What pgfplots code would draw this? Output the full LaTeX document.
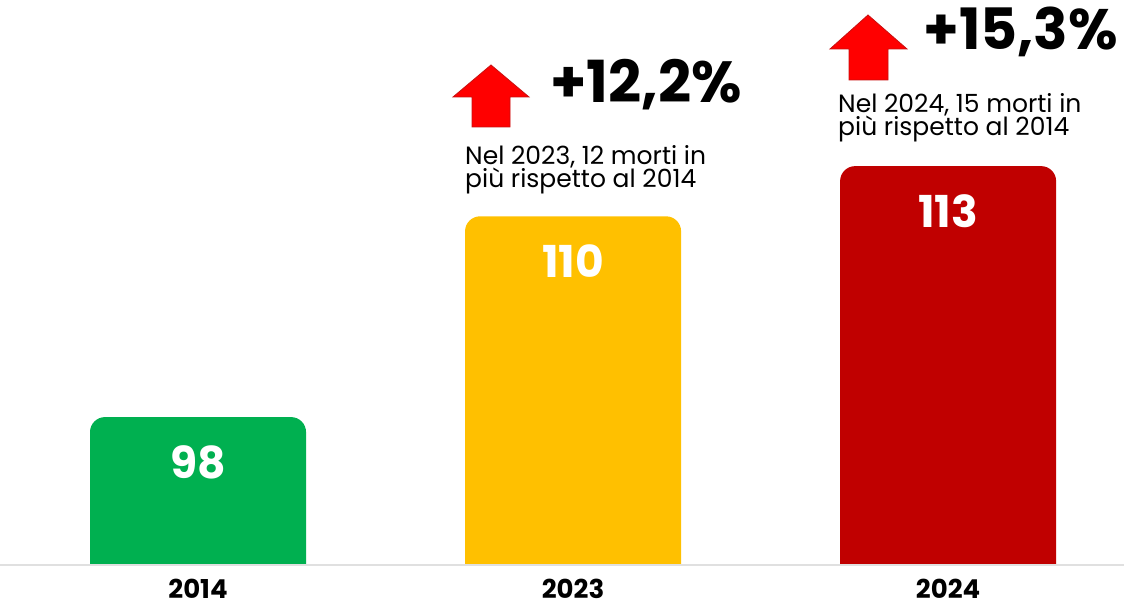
\documentclass[border=0pt]{standalone}
\usepackage{fontspec}
\setmainfont{Poppins}
\usepackage{pgfplots}
\pgfplotsset{compat=1.18}
\pgfplotsset{
 layers/mine/.define layer set={
  axis background,axis grid,axis ticks,axis lines,
  pre main,main,axis tick labels,axis descriptions,axis foreground
 }{
  grid style= {/pgfplots/on layer=axis grid},
  tick style= {/pgfplots/on layer=axis ticks},
  axis line style= {/pgfplots/on layer=axis lines},
  label style= {/pgfplots/on layer=axis descriptions},
  legend style= {/pgfplots/on layer=axis descriptions},
  title style= {/pgfplots/on layer=axis descriptions},
  colorbar style= {/pgfplots/on layer=axis descriptions},
  ticklabel style= {/pgfplots/on layer=axis tick labels},
  axis background@ style={/pgfplots/on layer=axis background},
  3d box foreground style={/pgfplots/on layer=axis foreground},
 },
}
\definecolor{cgreen}{HTML}{00B050}
\definecolor{cyellow}{HTML}{FFC000}
\definecolor{cred}{HTML}{C00000}
\definecolor{carrow}{HTML}{FF0000}
\definecolor{carrowedge}{HTML}{C81010}
\begin{document}
\begin{tikzpicture}
\begin{axis}[
  set layers=mine,
  scale only axis, width=1124pt, height=640pt,
  xmin=-0.528, xmax=2.469, ymin=84.677, ymax=122.93,
  axis y line=none, axis x line=bottom, x axis line style={draw=none},
  xtick={0,1,2}, xticklabels={2014,2023,2024}, major tick length=0pt,
  xticklabel style={font=\fontsize{26}{26}\selectfont\bfseries, inner sep=0pt, text depth=0pt, yshift=61.5pt},
  ybar, bar width=0.576, bar shift=0pt,
  nodes near coords,
  every node near coord/.append style={font=\fontsize{44}{44}\selectfont\bfseries, text=white, anchor=center, yshift=-45pt},
  /pgf/number format/assume math mode=true,
  clip=true,
]
\addplot[fill=cgreen, draw=none, rounded corners=15pt] coordinates {(0,98)};
\addplot[fill=cyellow, draw=none, rounded corners=15pt] coordinates {(1,110)};
\addplot[fill=cred, draw=none, rounded corners=15pt] coordinates {(2,113)};
\fill[white] (rel axis cs:0,0) rectangle (axis cs:2.469,89.16);
\draw[black!12, line width=1.5pt] (axis cs:-0.528,89.16) -- (axis cs:2.469,89.16);
\coordinate (TL) at (rel axis cs:0,1);
\coordinate (BL0) at (axis cs:-0.528,89.16);
\coordinate (BR0) at (axis cs:2.469,89.16);
\end{axis}
\begin{scope}[shift={(TL)}, x=1pt, y=-1pt]
  \draw[fill=carrow, draw=carrowedge, line width=0.8pt, line join=miter]
    (491,65) -- (529,97) -- (510,97) -- (510,127) -- (472,127) -- (472,97) -- (453,97) -- cycle;
  \draw[fill=carrow, draw=carrowedge, line width=0.8pt, line join=miter]
    (868,15) -- (907,49) -- (888,49) -- (888,80) -- (849,80) -- (849,49) -- (830,49) -- cycle;
  \node[anchor=base west, inner sep=0pt, font=\fontsize{58}{58}\selectfont\bfseries] at (550,103) {+12,2\%};
  \node[anchor=base west, inner sep=0pt, font=\fontsize{57}{57}\selectfont\bfseries] at (923,50) {+15,3\%};
  \node[anchor=base west, inner sep=0pt, font=\fontsize{25}{25}\selectfont] at (465,165) {Nel 2023, 12 morti in};
  \node[anchor=base west, inner sep=0pt, font=\fontsize{25}{25}\selectfont] at (465,188) {più rispetto al 2014};
  \node[anchor=base west, inner sep=0pt, font=\fontsize{25}{25}\selectfont] at (838,113) {Nel 2024, 15 morti in};
  \node[anchor=base west, inner sep=0pt, font=\fontsize{25}{25}\selectfont] at (838,136) {più rispetto al 2014};
\end{scope}
\pgfresetboundingbox
\path (TL) rectangle ([yshift=-36pt]BR0);
\end{tikzpicture}
\end{document}
